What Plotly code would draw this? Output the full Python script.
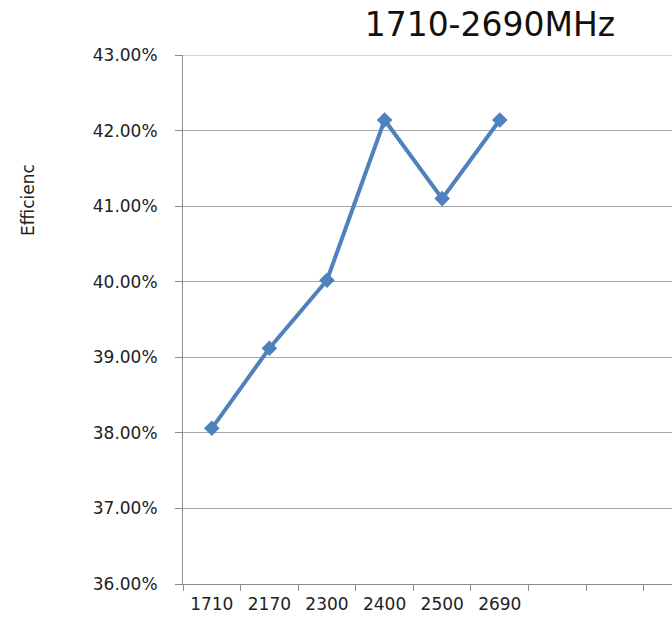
import plotly.graph_objects as go

# Measured efficiency per frequency point
frequencies = ["1710", "2170", "2300", "2400", "2500", "2690"]
efficiency = [0.3806, 0.3912, 0.4002, 0.4214, 0.4110, 0.4214]

y_ticks = [0.36, 0.37, 0.38, 0.39, 0.40, 0.41, 0.42, 0.43]

positions = list(range(len(frequencies)))
boundaries = [i - 0.5 for i in range(10)]

fig = go.Figure()
fig.add_trace(go.Scatter(
    x=positions,
    y=efficiency,
    mode="lines+markers",
    line=dict(color="#4F81BD", width=4),
    marker=dict(symbol="diamond", size=12, color="#4F81BD"),
    showlegend=False,
))

axis_grey = "#8C8C8C"
grid_grey = "#A6A6A6"
tick_font = dict(family="DejaVu Sans", size=17, color="#222222")

fig.update_layout(
    width=672,
    height=621,
    margin=dict(l=183, r=0, t=55, b=37),
    paper_bgcolor="white",
    plot_bgcolor="white",
    title=dict(
        text="1710-2690MHz",
        x=0.729, xanchor="center",
        y=0.961, yanchor="middle",
        font=dict(family="DejaVu Sans", size=33, color="#111111"),
    ),
    xaxis=dict(
        range=[-0.5, 7.99],
        tickmode="array",
        tickvals=positions,
        ticktext=frequencies,
        ticks="",
        showgrid=False,
        zeroline=False,
        showline=True,
        linecolor=axis_grey,
        linewidth=1,
        tickfont=tick_font,
        ticklabelstandoff=5,
        minor=dict(
            tickmode="array",
            tickvals=boundaries,
            ticks="outside",
            ticklen=6,
            tickwidth=1,
            tickcolor=axis_grey,
            showgrid=False,
        ),
    ),
    yaxis=dict(
        range=[0.36, 0.43],
        tickmode="array",
        tickvals=y_ticks,
        tickformat=".2%",
        ticks="outside",
        ticklen=7,
        tickcolor=axis_grey,
        showgrid=True,
        gridcolor=grid_grey,
        gridwidth=1,
        zeroline=False,
        showline=True,
        linecolor=axis_grey,
        linewidth=1,
        tickfont=tick_font,
        ticklabelstandoff=14,
    ),
    annotations=[
        dict(
            text="Efficienc",
            xref="paper", yref="paper",
            x=-(183 - 28) / 489, y=(584 - 200) / 529,
            xanchor="center", yanchor="middle",
            textangle=-90,
            showarrow=False,
            font=dict(family="DejaVu Sans", size=17, color="#222222"),
        )
    ],
)

# Gridline along the top of the value range
fig.add_shape(
    type="line", xref="paper", yref="y",
    x0=0, x1=1, y0=y_ticks[-1], y1=y_ticks[-1],
    line=dict(color=grid_grey, width=1),
    layer="below",
)

fig.write_html("out.html")
